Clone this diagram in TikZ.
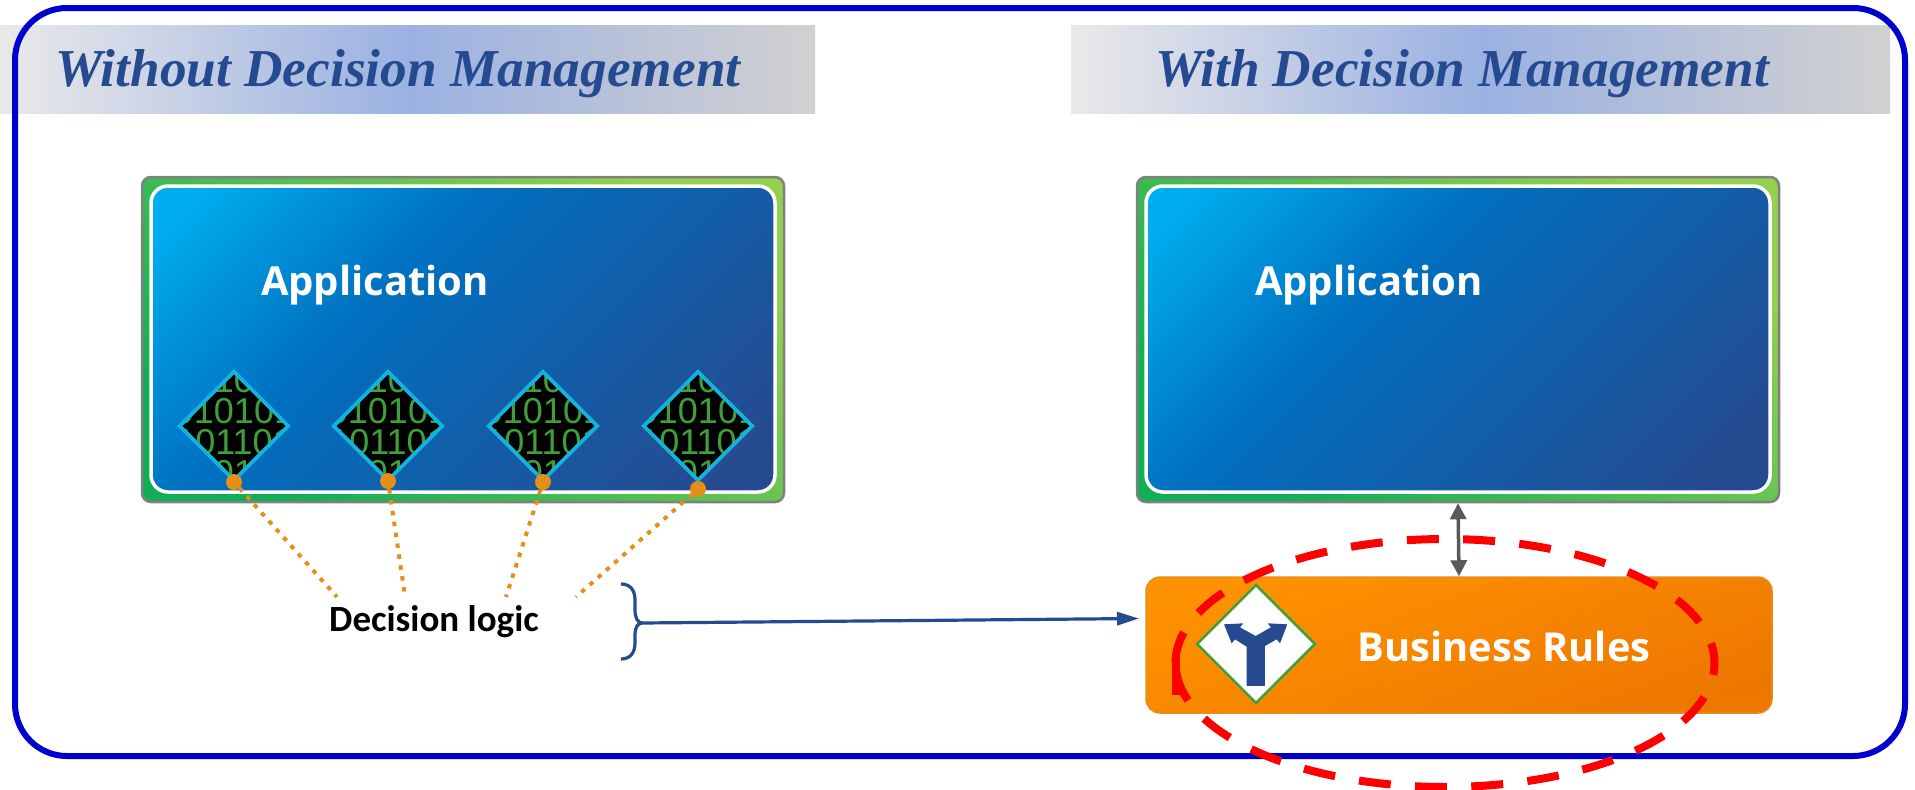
\documentclass[tikz,border=0pt]{standalone}
\usepackage{fontspec}
\usetikzlibrary{shapes.geometric,arrows.meta}
\setmainfont{Liberation Sans}
\newfontfamily\headfont{Liberation Serif}
\newfontfamily\appfont{Open Sans}
\newfontfamily\calfont{Carlito}
\definecolor{headblue}{HTML}{264A8F}
\definecolor{framebl}{HTML}{0000CC}
\definecolor{dotorange}{HTML}{E58E1A}
\definecolor{digitgreen}{HTML}{3F9F3A}
\definecolor{diamondline}{HTML}{10B4DC}
\definecolor{HA}{HTML}{E9E9E9}
\definecolor{HB}{HTML}{9BB1E2}
\definecolor{HC}{HTML}{D1D1D1}
\definecolor{AA}{HTML}{00AEEF}
\definecolor{AB}{HTML}{0070C0}
\definecolor{GA}{HTML}{12AE55}
\definecolor{GB}{HTML}{92D050}
\definecolor{OA}{HTML}{FF9200}
\definecolor{OB}{HTML}{EE7700}
\pgfdeclarehorizontalshading{headshade}{100bp}{color(0bp)=(HA); color(25bp)=(HA); color(50bp)=(HB); color(75bp)=(HC); color(100bp)=(HC)}
\pgfdeclarehorizontalshading{appinner}{100bp}{color(0bp)=(AA); color(18bp)=(AA); color(40bp)=(AB); color(80bp)=(headblue); color(100bp)=(headblue)}
\pgfdeclarehorizontalshading{appouter}{100bp}{color(0bp)=(GA); color(25bp)=(GA); color(75bp)=(GB); color(100bp)=(GB)}
\pgfdeclarehorizontalshading{orangeshade}{100bp}{color(0bp)=(OA); color(25bp)=(OA); color(75bp)=(OB); color(100bp)=(OB)}
\tikzset{
  headbar/.style={minimum width=#1,minimum height=88,inner sep=0,shading=headshade,shading angle=0,anchor=center},
  headtext/.style={font=\headfont\bfseries\itshape\fontsize{53.3}{53.3}\selectfont,text=headblue,inner sep=0},
  framebox/.style={draw=framebl,line width=6,rounded corners=52,minimum width=1890,minimum height=748,inner sep=0},
  appbox/.style={draw=black!50,line width=2.5,rounded corners=9,minimum width=642,minimum height=325,inner sep=0,shading=appouter,shading angle=50},
  innerbox/.style={draw=white,line width=3.5,rounded corners=17,minimum width=624,minimum height=306,inner sep=0,shading=appinner,shading angle=-45},
  apptext/.style={font=\appfont\bfseries\fontsize{40}{40}\selectfont,text=white,inner sep=0},
  chip/.style={diamond,aspect=1,minimum size=110,inner sep=0,fill=black},
  chipline/.style={diamond,aspect=1,minimum size=110,inner sep=0,draw=diamondline,line width=3.8},
  bit/.style={font=\fontsize{36}{31}\selectfont,text=digitgreen,inner sep=0,align=center},
  pin/.style={circle,fill=dotorange,minimum size=16,inner sep=0},
  pinline/.style={draw=dotorange,line width=4,dash pattern=on 4.5 off 6.5},
  ruletext/.style={font=\appfont\bfseries\fontsize{39.9}{40}\selectfont,text=white,inner sep=0},
  rulebox/.style={draw=dotorange,line width=1.5,rounded corners=14,minimum width=626,minimum height=136,inner sep=0,shading=orangeshade,shading angle=-70},
  forkbox/.style={diamond,aspect=1,minimum size=119,inner sep=0,fill=white,draw=digitgreen,line width=2.5},
  link/.style={draw=black!65,line width=3.5,{Triangle[width=16,length=16]}-{Triangle[width=16,length=16]}},
  bracearrow/.style={draw=headblue,line width=3.2},
  ringline/.style={draw=red,line width=8},
}
\begin{document}
\begin{tikzpicture}[x=1pt,y=-1pt]
\useasboundingbox (0,0) rectangle (1915,790);
\fill[white] (0,0) rectangle (1915,790);
% headers
\node[headbar=815] (barL) at (407.5,69) {};
\node[headbar=819] (barR) at (1480.5,69) {};
\node[framebox] (frame) at (960,382) {};
\node[headtext] (titleL) at (398,74) {Without Decision Management};
\node[headtext] (titleR) at (1462,74) {With Decision Management};
% application boxes
\node[appbox] (appL) at (463,339.5) {};
\node[innerbox] (inL) at (463,339) {};
\node[apptext] (appTextL) at (375,285) {Application};
\node[appbox] (appR) at (1458,339.5) {};
\node[innerbox] (inR) at (1458,339) {};
\node[apptext] (appTextR) at (1369,285) {Application};
% chips
\foreach \i/\cx/\py in {1/234/482,2/388/481,3/543/482,4/698/489}{
  \node[chip] (chip\i) at (\cx,426) {};
  \begin{scope}
    \clip (chip\i.north) -- (chip\i.east) -- (chip\i.south) -- (chip\i.west) -- cycle;
    \node[bit] (bits\i) at (\cx,427) {10\\010101\\101101\\01};
  \end{scope}
  \node[chipline] (edge\i) at (\cx,426) {};
  \node[pin] (pin\i) at (\cx,\py) {};
}
\coordinate (end1) at (337,597);
\coordinate (end2) at (405,596);
\coordinate (end3) at (506,597);
\coordinate (end4) at (576,597);
\foreach \i in {1,2,3,4}{\draw[pinline] (pin\i) -- (end\i);}
\node[font=\calfont\bfseries\fontsize{37}{37}\selectfont,text=black,inner sep=0] (logic) at (434,622) {Decision logic};
% brace and arrow
\coordinate (braceTip) at (642,623);
\coordinate (braceTop) at (621,584);
\coordinate (braceBot) at (621,659);
\draw[bracearrow] (braceTop) .. controls (630,584) and (635,590) .. (635,600) -- (635,610) .. controls (635,618) and (638,623) .. (braceTip);
\draw[bracearrow] (braceBot) .. controls (630,659) and (635,653) .. (635,643) -- (635,635) .. controls (635,627) and (638,623) .. (braceTip);
% rules box
\node[rulebox] (rules) at (1459,645) {};
\coordinate (rulesIn) at (1139,618.5);
\draw[bracearrow,-{Triangle[width=13,length=22]}] (braceTip) -- (rulesIn);
\draw[link] (appR.south) -- (rules.north);
\node[ruletext] (rulesText) at (1504,647) {Business Rules};
\node[forkbox] (fork) at (1256,644) {};
\begin{scope}[shift={(1130,480)},x=0.3333pt,y=-0.3333pt]
\fill[headblue] (350,618) -- (350,500) -- (315,478) -- (305,490) -- (282,433) -- (340,430) -- (330,442) -- (377,468) -- (423,442) -- (413,430) -- (472,433) -- (450,490) -- (440,478) -- (405,498) -- (405,618) -- cycle;
\end{scope}
% red ellipse
\draw[ringline,dash pattern=on 32 off 24.3] plot[smooth,samples=140,domain=180:540] ({1445+269.5*cos(\x)},{663+124*sin(\x)});
\draw[ringline] (1175.6,660) -- (1175.6,695);
\end{tikzpicture}
\end{document}
